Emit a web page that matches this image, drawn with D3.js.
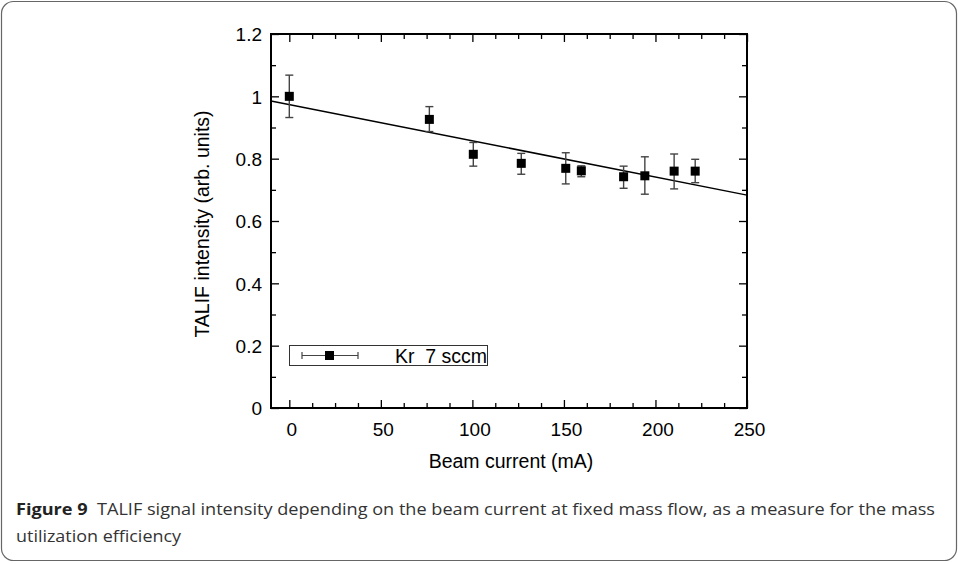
<!DOCTYPE html>
<html>
<head>
<meta charset="utf-8">
<script src="https://cdn.jsdelivr.net/npm/d3@7"></script>
<style>
  body { margin: 0; background: #fff; }
  svg { display: block; }
  .axis path, .axis line { stroke: #000; }
  .axis text { font-family: "Liberation Sans", Arial, sans-serif; font-size: 19px; fill: #000; }
</style>
</head>
<body>
<svg width="958" height="564"></svg>
<script>
// Beam current (mA) and measured TALIF intensity with error bar ends
var current   = [0, 76.5, 100.5, 126.7, 151, 159.5, 182.6, 194.2, 210.2, 221.7];
var intensity = [1.0, 0.926, 0.814, 0.785, 0.769, 0.761, 0.742, 0.745, 0.760, 0.760];
var errHigh   = [1.068, 0.967, 0.852, 0.817, 0.819, 0.777, 0.776, 0.806, 0.815, 0.798];
var errLow    = [0.932, 0.887, 0.776, 0.750, 0.719, 0.742, 0.705, 0.686, 0.703, 0.723];

// Linear fit end points
var fitX = [-10, 250];
var fitY = [0.985, 0.683];

// Tick values
var xMajor = [0, 50, 100, 150, 200, 250];
var xMinor = [12.5, 25, 37.5, 62.5, 75, 87.5, 112.5, 125, 137.5, 162.5, 175, 187.5, 212.5, 225, 237.5];
var yMajor = [0, 0.2, 0.4, 0.6, 0.8, 1, 1.2];
var yMinor = [0.1, 0.3, 0.5, 0.7, 0.9, 1.1];

var svg = d3.select("svg");
var labelFont = "'Liberation Sans', Arial, sans-serif";

// Rounded figure frame
svg.append("rect")
  .attr("x", 1.5).attr("y", 1.5)
  .attr("width", 955).attr("height", 559)
  .attr("rx", 12)
  .attr("fill", "none")
  .attr("stroke", "#666")
  .attr("stroke-width", 1.2);

var plotLeft = 271, plotRight = 747, plotTop = 34, plotBottom = 408;

var x = d3.scaleLinear().domain([-10, 250]).range([plotLeft, plotRight]);
var y = d3.scaleLinear().domain([0, 1.2]).range([plotBottom, plotTop]);

// Axes with inward ticks
function addAxis(axis, tx, ty, values, size, labels) {
  var g = svg.append("g")
    .attr("class", "axis")
    .attr("transform", "translate(" + tx + "," + ty + ")")
    .call(axis.tickValues(values).tickSizeInner(-size).tickSizeOuter(0)
      .tickFormat(labels ? d3.format("~g") : ""));
  g.select(".domain").remove();
  g.selectAll("line").attr("stroke-width", 1.3);
  return g;
}

var gx = addAxis(d3.axisBottom(x), 0, plotBottom, xMajor, 8, true);
gx.selectAll("text").attr("y", 28).attr("dy", 0).attr("dx", 2);
addAxis(d3.axisBottom(x), 0, plotBottom, xMinor, 5, false);
addAxis(d3.axisTop(x), 0, plotTop, xMajor, 8, false);
addAxis(d3.axisTop(x), 0, plotTop, xMinor, 5, false);

var gy = addAxis(d3.axisLeft(y), plotLeft, 0, yMajor, 8, true);
gy.selectAll("text").attr("x", -9).attr("dy", "0.36em");
addAxis(d3.axisLeft(y), plotLeft, 0, yMinor, 5, false);
addAxis(d3.axisRight(y), plotRight, 0, yMajor, 8, false);
addAxis(d3.axisRight(y), plotRight, 0, yMinor, 5, false);

// Plot frame
svg.append("rect")
  .attr("x", plotLeft).attr("y", plotTop)
  .attr("width", plotRight - plotLeft).attr("height", plotBottom - plotTop)
  .attr("fill", "none")
  .attr("stroke", "#000")
  .attr("stroke-width", 2);

// Axis titles
svg.append("text")
  .attr("x", (plotLeft + plotRight) / 2 + 2).attr("y", 468)
  .attr("text-anchor", "middle")
  .style("font-family", labelFont)
  .style("font-size", "19.5px")
  .text("Beam current (mA)");

svg.append("text")
  .attr("transform", "translate(209," + ((plotTop + plotBottom) / 2 + 3) + ") rotate(-90)")
  .attr("text-anchor", "middle")
  .style("font-family", labelFont)
  .style("font-size", "19.5px")
  .text("TALIF intensity (arb. units)");

// Fit line
svg.append("line")
  .attr("x1", x(fitX[0])).attr("y1", y(fitY[0]))
  .attr("x2", x(fitX[1])).attr("y2", y(fitY[1]))
  .attr("stroke", "#000")
  .attr("stroke-width", 1.5);

// Error bars
var pts = current.map(function(c, i) {
  return {x: c, y: intensity[i], hi: errHigh[i], lo: errLow[i]};
});

var eb = svg.append("g").attr("stroke", "#444").attr("stroke-width", 1.4);
pts.forEach(function(d) {
  eb.append("line").attr("x1", x(d.x)).attr("x2", x(d.x)).attr("y1", y(d.hi)).attr("y2", y(d.lo));
  eb.append("line").attr("x1", x(d.x) - 4).attr("x2", x(d.x) + 4).attr("y1", y(d.hi)).attr("y2", y(d.hi));
  eb.append("line").attr("x1", x(d.x) - 4).attr("x2", x(d.x) + 4).attr("y1", y(d.lo)).attr("y2", y(d.lo));
});

// Square markers
svg.selectAll("rect.pt")
  .data(pts)
  .enter()
  .append("rect")
  .attr("class", "pt")
  .attr("x", function(d) { return x(d.x) - 4.5; })
  .attr("y", function(d) { return y(d.y) - 4.5; })
  .attr("width", 9)
  .attr("height", 9)
  .attr("fill", "#000");

// Legend
var lg = svg.append("g");
lg.append("rect")
  .attr("x", 289.5).attr("y", 345.5)
  .attr("width", 198).attr("height", 20)
  .attr("fill", "#fff")
  .attr("stroke", "#333")
  .attr("stroke-width", 1);
lg.append("line").attr("x1", 302).attr("x2", 358).attr("y1", 355.5).attr("y2", 355.5)
  .attr("stroke", "#444").attr("stroke-width", 1.2);
lg.append("line").attr("x1", 302).attr("x2", 302).attr("y1", 352).attr("y2", 359)
  .attr("stroke", "#444").attr("stroke-width", 1.2);
lg.append("line").attr("x1", 358).attr("x2", 358).attr("y1", 352).attr("y2", 359)
  .attr("stroke", "#444").attr("stroke-width", 1.2);
lg.append("rect").attr("x", 325).attr("y", 351).attr("width", 9).attr("height", 9).attr("fill", "#000");
lg.append("text")
  .attr("x", 395).attr("y", 362.5)
  .style("font-family", labelFont)
  .style("font-size", "19.5px")
  .attr("xml:space", "preserve")
  .text("Kr  7 sccm");

// Caption
var cap = svg.append("text")
  .attr("x", 16).attr("y", 515)
  .attr("textLength", 919)
  .attr("lengthAdjust", "spacingAndGlyphs")
  .style("font-family", "'Open Sans', 'Noto Sans', sans-serif")
  .style("font-size", "16px")
  .style("fill", "#333");
cap.append("tspan").style("font-weight", "bold").style("fill", "#222").text("Figure 9");
cap.append("tspan").attr("xml:space", "preserve").text("  TALIF signal intensity depending on the beam current at fixed mass flow, as a measure for the mass");

svg.append("text")
  .attr("x", 16).attr("y", 541.5)
  .attr("textLength", 165)
  .attr("lengthAdjust", "spacingAndGlyphs")
  .style("font-family", "'Open Sans', 'Noto Sans', sans-serif")
  .style("font-size", "16px")
  .style("fill", "#333")
  .text("utilization efficiency");
</script>
</body>
</html>
